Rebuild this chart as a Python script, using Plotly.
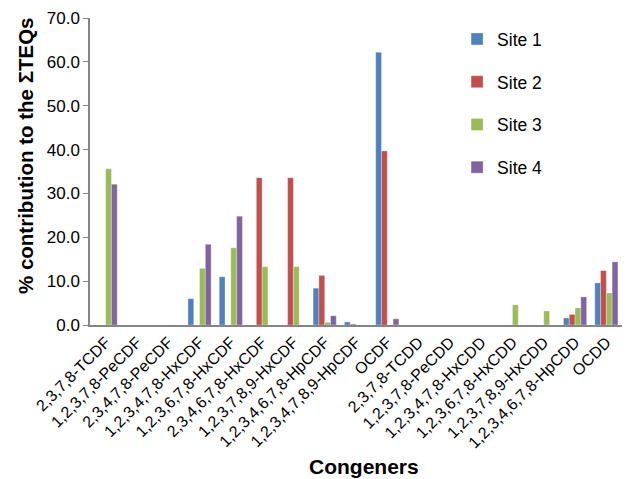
import plotly.graph_objects as go

congeners = ["2,3,7,8-TCDF", "1,2,3,7,8-PeCDF", "2,3,4,7,8-PeCDF", "1,2,3,4,7,8-HxCDF",
             "1,2,3,6,7,8-HxCDF", "2,3,4,6,7,8-HxCDF", "1,2,3,7,8,9-HxCDF", "1,2,3,4,6,7,8-HpCDF",
             "1,2,3,4,7,8,9-HpCDF", "OCDF", "2,3,7,8-TCDD", "1,2,3,7,8-PeCDD", "1,2,3,4,7,8-HxCDD",
             "1,2,3,6,7,8-HxCDD", "1,2,3,7,8,9-HxCDD", "1,2,3,4,6,7,8-HpCDD", "OCDD"]

site1 = [0, 0, 0, 6.0, 11.0, 0, 0, 8.4, 0.7, 62.2, 0, 0, 0, 0, 0, 1.6, 9.6]
site2 = [0, 0, 0, 0, 0, 33.6, 33.6, 11.3, 0.2, 39.7, 0, 0, 0, 0, 0, 2.4, 12.4]
site3 = [35.6, 0, 0, 12.9, 17.6, 13.3, 13.3, 0.6, 0, 0, 0, 0, 0, 4.6, 3.2, 3.9, 7.3]
site4 = [32.1, 0, 0, 18.4, 24.8, 0, 0, 2.1, 0, 1.4, 0, 0, 0, 0, 0, 6.4, 14.4]

series = [("Site 1", site1, "#4F81BD"), ("Site 2", site2, "#C0504D"),
          ("Site 3", site3, "#9BBB59"), ("Site 4", site4, "#8064A2")]

FONT = "Liberation Sans, Arial, Helvetica, sans-serif"

fig = go.Figure()
for name, vals, col in series:
    fig.add_trace(go.Bar(
        x=congeners, y=vals, name=name, legendgroup=name,
        marker=dict(color=col, line=dict(color="rgba(255,255,255,0.6)", width=0.5)),
    ))

fig.update_layout(
    width=629, height=479,
    margin=dict(l=90, r=7, t=18, b=154),
    paper_bgcolor="white", plot_bgcolor="white",
    barmode="group", bargap=0.26, bargroupgap=0,
    font=dict(family=FONT, color="black"),
    showlegend=True,
    legend=dict(x=0.69, y=0.99, xanchor="left", yanchor="top",
                font=dict(size=17.5, family=FONT), tracegroupgap=17,
                bgcolor="rgba(0,0,0,0)", itemwidth=30),
    xaxis=dict(
        type="category", tickangle=-45, tickfont=dict(size=16, family=FONT),
        showline=True, linecolor="#868686", linewidth=1.5,
        ticks="", showgrid=False, zeroline=False,
    ),
    yaxis=dict(
        range=[0, 70], dtick=10, tickformat=".1f",
        tickfont=dict(size=17, family=FONT),
        showline=True, linecolor="#868686", linewidth=1.5,
        ticks="outside", ticklen=5, tickcolor="#868686",
        showgrid=False, zeroline=False,
    ),
    annotations=[
        dict(text="<b>% contribution to the \u03a3TEQs</b>", x=25, y=156,
             xref="paper", yref="paper", showarrow=False, textangle=-90,
             font=dict(size=20.5, family=FONT)),
        dict(text="<b>Congeners</b>", x=364, y=466,
             xref="paper", yref="paper", showarrow=False,
             font=dict(size=21, family=FONT)),
    ],
)

# convert pixel positions of annotations to paper coords
pw = 629 - 90 - 7
ph = 479 - 18 - 154
for a in fig.layout.annotations:
    px, py = a.x, a.y
    a.x = (px - 90) / pw
    a.y = (479 - 154 - py) / ph
    a.xanchor = "center"
    a.yanchor = "middle"

fig.write_html("out.html")
